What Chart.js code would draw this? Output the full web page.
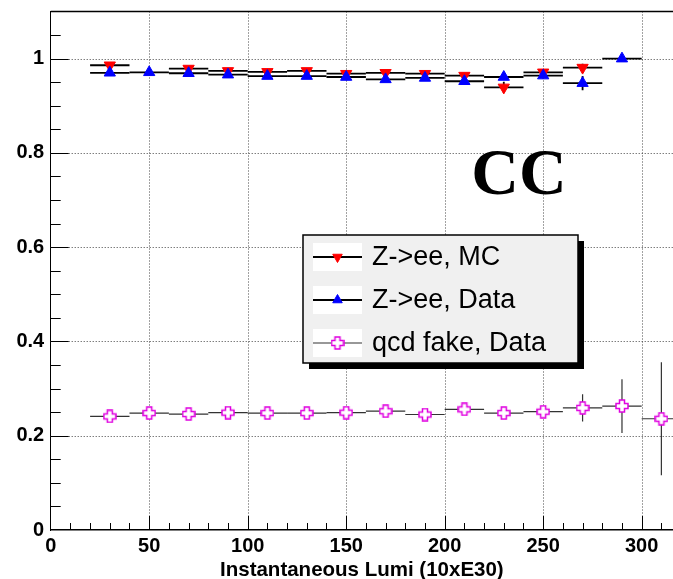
<!DOCTYPE html>
<html lang="en">
<head>
  <meta charset="UTF-8">
  <title>Electron ID efficiency vs instantaneous luminosity (CC)</title>
  <style>
    body {
      margin: 0;
      padding: 0;
      background: #ffffff;
    }
    #wrap {
      position: relative;
      width: 673px;
      height: 579px;
    }
  </style>
  <script src="https://cdn.jsdelivr.net/npm/chart.js"></script>
</head>
<body>
  <div id="wrap">
    <canvas id="effChart"></canvas>
  </div>
  <script>
    // bin centres in instantaneous lumi, each bin is 20 wide
    const lumiBins = [30, 50, 70, 90, 110, 130, 150, 170, 190, 210, 230, 250, 270, 290, 310];
    const binHalfWidth = 10;

    // Z->ee efficiency, Monte Carlo
    const mcEff = [0.986, null, 0.979, 0.974, 0.972, 0.974, 0.968, 0.970, 0.968, 0.964, 0.939, 0.971, 0.981, null, null];
    const mcErr = [0.004, 0, 0.004, 0.004, 0.004, 0.004, 0.004, 0.004, 0.004, 0.005, 0.012, 0.005, 0.008, 0, 0];

    // Z->ee efficiency, data
    const dataEff = [0.970, 0.971, 0.969, 0.966, 0.963, 0.963, 0.961, 0.956, 0.959, 0.952, 0.961, 0.964, 0.948, 1.000, null];
    const dataErr = [0.003, 0.003, 0.003, 0.003, 0.003, 0.003, 0.003, 0.004, 0.004, 0.005, 0.006, 0.006, 0.015, 0, 0];

    // fake rate from the qcd sample, data
    const qcdFake = [0.241, 0.248, 0.246, 0.249, 0.248, 0.248, 0.249, 0.252, 0.245, 0.256, 0.248, 0.251, 0.259, 0.263, 0.236];
    const qcdErr = [0.004, 0.004, 0.004, 0.004, 0.004, 0.004, 0.004, 0.005, 0.005, 0.006, 0.007, 0.009, 0.029, 0.057, 0.120];

    const xTickLabels = [0, 50, 100, 150, 200, 250, 300];
    const yTickLabels = ['0', '0.2', '0.4', '0.6', '0.8', '1'];

    const X_MAX = 315.9;
    const Y_MAX = 1.1;

    function toPoints(vals, errs) {
      const pts = [];
      vals.forEach((v, i) => {
        if (v !== null) pts.push({ x: lumiBins[i], y: v, err: errs[i] });
      });
      return pts;
    }

    // hollow cross marker (like ROOT style 28)
    function openCross(size, arm, color) {
      const c = document.createElement('canvas');
      c.width = c.height = size;
      const g = c.getContext('2d');
      const h = size / 2, a = arm / 2, e0 = 1, e1 = size - 1;
      g.beginPath();
      g.moveTo(h - a, e0); g.lineTo(h + a, e0); g.lineTo(h + a, h - a);
      g.lineTo(e1, h - a); g.lineTo(e1, h + a); g.lineTo(h + a, h + a);
      g.lineTo(h + a, e1); g.lineTo(h - a, e1); g.lineTo(h - a, h + a);
      g.lineTo(e0, h + a); g.lineTo(e0, h - a); g.lineTo(h - a, h - a);
      g.closePath();
      g.fillStyle = '#ffffff';
      g.fill();
      g.strokeStyle = color;
      g.lineWidth = 1.5;
      g.stroke();
      return c;
    }
    const crossMarker = openCross(14, 5, '#e000e0');

    const tickFont = { family: "'Liberation Sans', Arial, sans-serif", size: 20, weight: 'bold', lineHeight: 1 };

    // frame: dotted grid, inward ticks, error bars (under the markers)
    const rootFrame = {
      id: 'rootFrame',
      beforeDatasetsDraw(chart) {
        const { ctx, chartArea: a, scales: { x, y } } = chart;
        ctx.save();

        ctx.strokeStyle = '#444';
        ctx.lineWidth = 1;
        ctx.setLineDash([1, 2]);
        xTickLabels.forEach(v => {
          if (v <= 0) return;
          const px = Math.round(x.getPixelForValue(v)) + 0.5;
          ctx.beginPath(); ctx.moveTo(px, a.top); ctx.lineTo(px, a.bottom); ctx.stroke();
        });
        yTickLabels.forEach(t => {
          const v = parseFloat(t);
          if (v <= 0) return;
          const py = Math.round(y.getPixelForValue(v)) + 0.5;
          ctx.beginPath(); ctx.moveTo(a.left, py); ctx.lineTo(a.right, py); ctx.stroke();
        });
        ctx.setLineDash([]);

        // top frame
        ctx.strokeStyle = '#000';
        ctx.lineWidth = 1.5;
        ctx.beginPath(); ctx.moveTo(a.left, a.top); ctx.lineTo(a.right, a.top); ctx.stroke();

        // x ticks, every 10, longer at labelled values
        ctx.lineWidth = 1;
        for (let v = 10; v < X_MAX; v += 10) {
          const px = Math.round(x.getPixelForValue(v)) + 0.5;
          const len = v % 50 === 0 ? 14 : 7;
          ctx.beginPath(); ctx.moveTo(px, a.bottom); ctx.lineTo(px, a.bottom - len); ctx.stroke();
        }
        // y ticks, every 0.05
        for (let k = 1; k * 0.05 < Y_MAX; k++) {
          const py = Math.round(y.getPixelForValue(k * 0.05)) + 0.5;
          const len = k % 4 === 0 ? 18 : 10;
          ctx.beginPath(); ctx.moveTo(a.left, py); ctx.lineTo(a.left + len, py); ctx.stroke();
        }

        // error bars
        chart.data.datasets.forEach(ds => {
          ctx.strokeStyle = ds.barColor;
          ctx.lineWidth = ds.barWidth;
          ds.data.forEach(p => {
            const px = x.getPixelForValue(p.x);
            const py = y.getPixelForValue(p.y);
            ctx.beginPath();
            ctx.moveTo(x.getPixelForValue(p.x - binHalfWidth), py);
            ctx.lineTo(x.getPixelForValue(p.x + binHalfWidth), py);
            if (p.err > 0) {
              ctx.moveTo(px, y.getPixelForValue(p.y + p.err));
              ctx.lineTo(px, y.getPixelForValue(p.y - p.err));
            }
            ctx.stroke();
          });
        });
        ctx.restore();
      },
      afterDraw(chart) {
        const { ctx } = chart;
        ctx.save();

        // region label
        ctx.fillStyle = '#000';
        ctx.font = "bold 66px 'Liberation Serif', 'Times New Roman', serif";
        ctx.textAlign = 'center';
        ctx.textBaseline = 'middle';
        ctx.fillText('CC', 519, 177);

        // legend box with shadow
        const bx = 303, by = 235, bw = 275, bh = 128;
        ctx.fillStyle = '#000';
        ctx.fillRect(bx + 6, by + 6, bw, bh);
        ctx.fillStyle = '#f0f0f0';
        ctx.fillRect(bx, by, bw, bh);
        ctx.strokeStyle = '#000';
        ctx.lineWidth = 1.5;
        ctx.strokeRect(bx, by, bw, bh);

        const rows = [257, 300, 343];
        ctx.font = "27px 'Liberation Sans', Arial, sans-serif";
        ctx.textAlign = 'left';
        chart.data.datasets.forEach((ds, i) => {
          const ry = rows[i];
          ctx.fillStyle = '#fff';
          ctx.fillRect(bx + 10, ry - 14, 49, 28);
          ctx.strokeStyle = ds.barColor;
          ctx.lineWidth = ds.barWidth;
          ctx.beginPath(); ctx.moveTo(bx + 10, ry); ctx.lineTo(bx + 59, ry); ctx.stroke();
          ctx.fillStyle = ds.backgroundColor;
          ctx.strokeStyle = ds.borderColor;
          ctx.lineWidth = 1;
          Chart.helpers.drawPoint(ctx, {
            pointStyle: ds.pointStyle,
            rotation: ds.rotation || 0,
            radius: ds.pointRadius - 1,
            borderWidth: 1
          }, bx + 34.5, ry);
          ctx.fillStyle = '#000';
          ctx.fillText(ds.label, bx + 69, ry + 1);
        });
        ctx.restore();
      }
    };

    const chart = new Chart(document.getElementById('effChart'), {
      type: 'scatter',
      data: {
        datasets: [
          {
            label: 'Z->ee, MC',
            data: toPoints(mcEff, mcErr),
            pointStyle: 'triangle',
            rotation: 180,
            pointRadius: 6.5,
            backgroundColor: '#ff0000',
            borderColor: '#ff0000',
            borderWidth: 1,
            barColor: '#000',
            barWidth: 1.8,
            order: 2
          },
          {
            label: 'Z->ee, Data',
            data: toPoints(dataEff, dataErr),
            pointStyle: 'triangle',
            pointRadius: 6.5,
            backgroundColor: '#0000ff',
            borderColor: '#0000ff',
            borderWidth: 1,
            barColor: '#000',
            barWidth: 1.8,
            order: 1
          },
          {
            label: 'qcd fake, Data',
            data: toPoints(qcdFake, qcdErr),
            pointStyle: crossMarker,
            pointRadius: 7,
            backgroundColor: '#e000e0',
            borderColor: '#e000e0',
            barColor: '#333',
            barWidth: 1.2,
            order: 0
          }
        ]
      },
      options: {
        responsive: true,
        maintainAspectRatio: false,
        animation: false,
        layout: { autoPadding: false, padding: { top: 11.5, right: 0, left: 0, bottom: 0 } },
        plugins: {
          legend: { display: false },
          tooltip: { enabled: false }
        },
        scales: {
          x: {
            type: 'linear',
            min: 0,
            max: X_MAX,
            afterBuildTicks: s => { s.ticks = xTickLabels.map(v => ({ value: v })); },
            afterFit: s => { s.height = 49; },
            grid: { display: false },
            border: { display: true, color: '#000', width: 1.5 },
            ticks: {
              autoSkip: false,
              maxRotation: 0,
              padding: -2,
              color: '#000',
              font: tickFont,
              callback: v => String(v)
            },
            title: {
              display: true,
              text: 'Instantaneous Lumi (10xE30)',
              color: '#000',
              font: { family: "'Liberation Sans', Arial, sans-serif", size: 20.5, weight: 'bold', lineHeight: 0.8 },
              padding: { top: 0, bottom: 0 }
            }
          },
          y: {
            type: 'linear',
            min: 0,
            max: Y_MAX,
            afterBuildTicks: s => { s.ticks = yTickLabels.map(t => ({ value: parseFloat(t) })); },
            afterFit: s => { s.width = 50.7; },
            grid: { display: false },
            border: { display: true, color: '#000', width: 1 },
            ticks: {
              autoSkip: false,
              padding: -1.5,
              color: '#000',
              font: tickFont,
              callback: v => yTickLabels[Math.round(v * 5)]
            }
          }
        }
      },
      plugins: [rootFrame]
    });
  </script>
</body>
</html>
